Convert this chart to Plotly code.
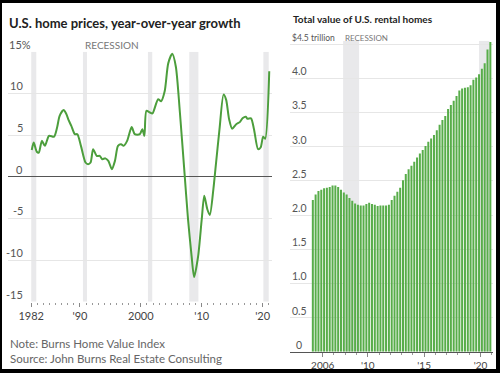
import plotly.graph_objects as go

# ---------------- Data ----------------
# Left: U.S. home prices, year-over-year growth (%)
price_dates = [
    "1982-02", "1982-06", "1982-12", "1983-04", "1983-10", "1984-04", "1984-12",
    "1985-10", "1986-04", "1986-09", "1987-05", "1987-10", "1988-03", "1988-08",
    "1989-03", "1989-08", "1990-03", "1990-12", "1991-05", "1991-10", "1992-03",
    "1992-10", "1993-04", "1993-09", "1994-03", "1994-09", "1995-04", "1995-10",
    "1996-04", "1996-10", "1997-03", "1997-10", "1998-07", "1999-01", "1999-11",
    "2000-04", "2000-08", "2000-12", "2001-07", "2001-12", "2002-11", "2003-05",
    "2003-12", "2004-07", "2005-03", "2005-10", "2006-06", "2007-02", "2007-10",
    "2008-05", "2008-10", "2009-06", "2010-01", "2010-06", "2010-12", "2011-05",
    "2011-12", "2012-04", "2012-12", "2013-08", "2014-01", "2014-07", "2015-01",
    "2015-09", "2016-04", "2016-10", "2017-04", "2017-07", "2018-02", "2018-08",
    "2019-04", "2019-09", "2020-02", "2020-06", "2021-02",
]
price_growth = [
    3.2, 4.1, 3.0, 2.9, 4.3, 3.7, 4.9,
    4.8, 5.9, 7.3, 8.0, 7.55, 6.75, 6.1,
    5.1, 5.1, 3.7, 1.7, 1.5, 1.7, 3.3,
    2.5, 2.5, 2.1, 2.2, 1.9, 0.9, 1.9,
    3.7, 3.9, 3.7, 4.3, 5.95, 5.1, 5.1,
    5.7, 4.9, 7.9, 7.7, 7.6, 9.3, 9.05,
    10.25, 13.6, 14.75, 13.2, 7.7, 1.3, -5.1,
    -9.5, -12.05, -9.5, -5.1, -2.3, -3.9, -4.6,
    -1.5, 0.9, 5.7, 9.85, 9.25, 6.9, 5.75,
    6.3, 6.55, 7.05, 7.2, 6.95, 7.0, 5.7,
    3.3, 3.5, 4.8, 4.55, 12.65,
]
left_ytick_vals = [-15, -10, -5, 0, 5, 10, 15]
left_ytick_text = ["-15", "-10", "-5", "0", "5", "10", "15%"]
left_xtick_vals = ["1982-01-01", "1990-01-01", "2000-01-01", "2010-01-01", "2020-01-01"]
left_xtick_text = ["1982", "'90", "2000", "'10", "'20"]
left_recessions = [
    ("1982-01-01", "1982-11-01"),
    ("1990-07-01", "1991-03-01"),
    ("2001-03-01", "2001-11-15"),
    ("2007-12-15", "2009-06-15"),
    ("2020-02-15", "2021-01-01"),
]

# Right: total value of U.S. rental homes ($ trillion), quarterly 2005Q1-2020Q4
rental_quarters = [f"{y}-{m:02d}-01" for y in range(2005, 2021) for m in (1, 4, 7, 10)]
rental_value = [
    2.22, 2.30, 2.35, 2.37, 2.39, 2.40, 2.41, 2.43,
    2.43, 2.41, 2.37, 2.33, 2.30, 2.25, 2.21, 2.17,
    2.15, 2.14, 2.14, 2.16, 2.18, 2.16, 2.15, 2.13,
    2.14, 2.14, 2.14, 2.15, 2.22, 2.28, 2.34, 2.40,
    2.51, 2.60, 2.67, 2.72, 2.78, 2.84, 2.90, 2.95,
    3.01, 3.07, 3.12, 3.17, 3.24, 3.32, 3.39, 3.45,
    3.55, 3.61, 3.67, 3.74, 3.82, 3.85, 3.86, 3.87,
    3.90, 3.98, 4.01, 4.06, 4.14, 4.22, 4.42, 4.53,
]
right_ytick_vals = [0, 0.5, 1.0, 1.5, 2.0, 2.5, 3.0, 3.5, 4.0, 4.5]
right_ytick_text = ["0", "0.5", "1.0", "1.5", "2.0", "2.5", "3.0", "3.5", "4.0", "$4.5 trillion"]
right_xtick_vals = ["2006-01-01", "2010-01-01", "2015-01-01", "2020-01-01"]
right_xtick_text = ["2006", "'10", "'15", "'20"]
right_recessions = [
    ("2007-10-25", "2009-03-25"),
    ("2019-11-15", "2020-10-20"),
]

# ---------------- Styles ----------------
W, H = 500, 373
FONT = "Lato, 'Open Sans', sans-serif"
GREEN = "#4c9e3c"
BAR_GREEN = "#58ad4a"
GRID = "#e6e6e6"
BAND = "#e9e9eb"
LABEL = "#555555"


def px(x):
    return x / W


def py(y):
    return 1 - y / H


fig = go.Figure()

fig.add_trace(go.Scatter(
    x=price_dates, y=price_growth, mode="lines",
    line=dict(color=GREEN, width=2, shape="spline", smoothing=0.7),
    xaxis="x", yaxis="y", hoverinfo="skip", showlegend=False,
))

fig.add_trace(go.Bar(
    x=rental_quarters, y=rental_value,
    xperiod="M3", xperiodalignment="middle",
    marker=dict(color=BAR_GREEN, line=dict(width=0)),
    xaxis="x2", yaxis="y2", hoverinfo="skip", showlegend=False,
))

shapes = [
    dict(type="rect", xref="paper", yref="paper", x0=px(2), x1=px(496), y0=py(369), y1=py(3),
         fillcolor="white", line=dict(width=0), layer="below"),
]
for a, b in left_recessions:
    shapes.append(dict(type="rect", xref="x", yref="y", x0=a, x1=b, y0=-15, y1=15,
                       fillcolor=BAND, line=dict(width=0), layer="below"))
for a, b in right_recessions:
    shapes.append(dict(type="rect", xref="x2", yref="y2", x0=a, x1=b, y0=0, y1=4.55,
                       fillcolor=BAND, line=dict(width=0), layer="below"))

annotations = [
    dict(text="<b>U.S. home prices, year-over-year growth</b>", xref="paper", yref="paper",
         x=px(7), y=py(22.5), xanchor="left", yanchor="middle", showarrow=False,
         font=dict(family=FONT, size=13, color="#222")),
    dict(text="<b>Total value of U.S. rental homes</b>", xref="paper", yref="paper",
         x=px(291), y=py(19.2), xanchor="left", yanchor="middle", showarrow=False,
         font=dict(family=FONT, size=10, color="#222")),
    dict(text="Note: Burns Home Value Index", xref="paper", yref="paper",
         x=px(8), y=py(343.3), xanchor="left", yanchor="middle", showarrow=False,
         font=dict(family=FONT, size=11.5, color="#666")),
    dict(text="Source: John Burns Real Estate Consulting", xref="paper", yref="paper",
         x=px(8), y=py(358.3), xanchor="left", yanchor="middle", showarrow=False,
         font=dict(family=FONT, size=11.5, color="#666")),
    dict(text="RECESSION", xref="x", yref="y", x=left_recessions[1][0], y=15,
         xanchor="left", yanchor="bottom", yshift=-1, showarrow=False,
         font=dict(family=FONT, size=10, color="#777")),
    dict(text="RECESSION", xref="x2", yref="y2", x=right_recessions[0][0], y=4.5,
         xanchor="left", yanchor="bottom", yshift=-1, showarrow=False,
         font=dict(family=FONT, size=8, color="#777")),
]
for v, t in zip(left_ytick_vals, left_ytick_text):
    right_edge = 32.5 if t.endswith("%") else 24.5
    annotations.append(dict(text=t, xref="paper", yref="y", x=px(right_edge), y=v,
                            xanchor="right", yanchor="bottom", yshift=-1, showarrow=False,
                            font=dict(family=FONT, size=11, color=LABEL)))
for v, t in zip(right_ytick_vals, right_ytick_text):
    last = t.startswith("$")
    annotations.append(dict(text=t, xref="paper", yref="y2",
                            x=px(290) if last else px(299), y=v,
                            xanchor="left" if last else "center", yanchor="bottom",
                            yshift=-1, showarrow=False,
                            font=dict(family=FONT, size=8.5 if last else 10.5, color=LABEL)))

left_minor = [f"{y}-01-01" for y in range(1983, 2022)]
right_minor = [f"{y}-01-01" for y in range(2007, 2022)]

fig.update_layout(
    width=W, height=H,
    margin=dict(l=0, r=0, t=0, b=0),
    paper_bgcolor="black", plot_bgcolor="rgba(0,0,0,0)",
    font=dict(family=FONT, color=LABEL),
    bargap=0.28,
    shapes=shapes, annotations=annotations,
    xaxis=dict(
        type="date", domain=[px(8), px(272)], anchor="y",
        range=["1978-03-10", "2021-07-16"],
        tickmode="array", tickvals=left_xtick_vals, ticktext=left_xtick_text,
        ticks="outside", ticklen=4, tickcolor="#888", tickwidth=1,
        minor=dict(tickmode="array", tickvals=left_minor, ticks="outside",
                   ticklen=2, tickcolor="#999", tickwidth=1, showgrid=False),
        showgrid=False, zeroline=False, showline=False,
        tickfont=dict(family=FONT, size=11, color="#444"),
    ),
    yaxis=dict(
        domain=[py(301.7), py(51.7)], anchor="x", range=[-15, 15],
        tickmode="array", tickvals=left_ytick_vals, showticklabels=False,
        showgrid=True, gridcolor=GRID, gridwidth=1,
        zeroline=True, zerolinecolor="#555", zerolinewidth=1, showline=False, ticks="",
    ),
    xaxis2=dict(
        type="date", domain=[px(290), px(493)], anchor="y2",
        range=["2003-02-06", "2021-02-10"],
        tickmode="array", tickvals=right_xtick_vals, ticktext=right_xtick_text,
        ticks="outside", ticklen=4, tickcolor="#888", tickwidth=1,
        minor=dict(tickmode="array", tickvals=right_minor, ticks="outside",
                   ticklen=2, tickcolor="#999", tickwidth=1, showgrid=False),
        showgrid=False, zeroline=False, showline=True, linecolor="#555", linewidth=1,
        tickfont=dict(family=FONT, size=10, color="#444"),
    ),
    yaxis2=dict(
        domain=[py(351.7), py(40.7)], anchor="x2", range=[0, 4.55],
        tickmode="array", tickvals=right_ytick_vals, showticklabels=False,
        showgrid=True, gridcolor=GRID, gridwidth=1,
        zeroline=False, showline=False, ticks="",
    ),
)

fig.write_html(
    "out.html",
    config={"displayModeBar": False, "staticPlot": True},
    post_script="document.body.style.margin='0';document.body.style.overflow='hidden';"
                "document.body.style.background='black';",
)
